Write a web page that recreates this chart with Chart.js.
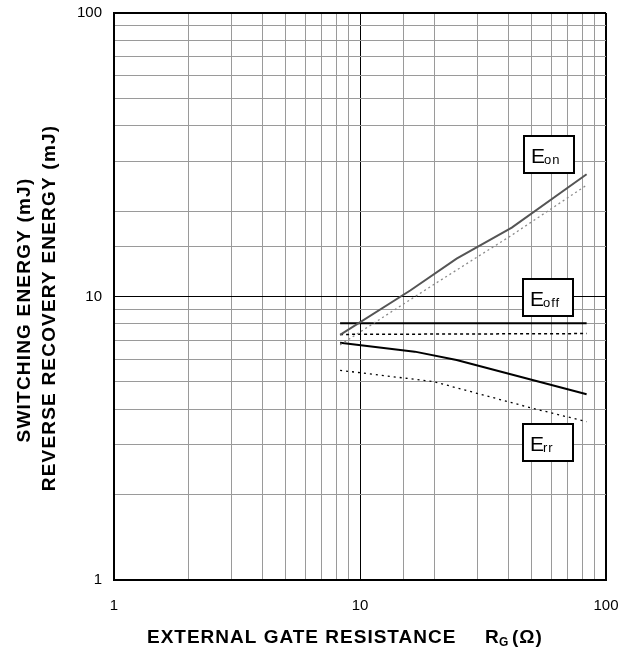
<!DOCTYPE html>
<html>
<head>
<meta charset="utf-8">
<script src="https://cdn.jsdelivr.net/npm/chart.js@4.4.1/dist/chart.umd.min.js"></script>
<style>
  html, body { margin: 0; padding: 0; background: #fff; }
  #grafica { display: block; }
</style>
</head>
<body>
<canvas id="grafica" width="621" height="652"></canvas>
<script>
// valores (Rg en ohm, energia en mJ)
const rgEon = [8.3, 16, 24.7, 41.4, 83.4];
const eonSolida = [7.32, 10.5, 13.6, 17.5, 27.0];
const rgEonPunteada = [8.3, 20.2, 40.7, 83.4];
const eonPunteada = [6.75, 11.1, 16.3, 24.7];
const rgEoff = [8.3, 83.4];
const eoffSolida = [8.05, 8.05];
const eoffPunteada = [7.35, 7.4];
const rgErr = [8.3, 16.7, 24.7, 83.4];
const errSolida = [6.87, 6.39, 5.97, 4.52];
const rgErrPunteada = [8.3, 19.9, 50.5, 83.4];
const errPunteada = [5.49, 5.01, 4.03, 3.62];
const ticksMarcados = [1, 10, 100];

const puntos = (xs, ys) => xs.map((x, i) => ({ x: x, y: ys[i] }));

const esMayor = v => ticksMarcados.includes(v);

// cajas de etiqueta y titulos de ejes
const etiquetas = {
  id: 'etiquetas',
  afterDraw(chart) {
    const ctx = chart.ctx;
    const cajas = [
      { sub: 'on', left: 524, top: 136 },
      { sub: 'off', left: 523, top: 279 },
      { sub: 'rr', left: 523, top: 424 }
    ];
    ctx.save();
    cajas.forEach(c => {
      ctx.fillStyle = '#fff';
      ctx.fillRect(c.left, c.top, 50, 37);
      ctx.strokeStyle = '#000';
      ctx.lineWidth = 2;
      ctx.strokeRect(c.left, c.top, 50, 37);
      ctx.fillStyle = '#000';
      ctx.textAlign = 'left';
      ctx.textBaseline = 'alphabetic';
      ctx.font = '21px "Liberation Sans"';
      ctx.letterSpacing = '0px';
      ctx.fillText('E', c.left + 7, c.top + 27);
      ctx.font = '13px "Liberation Sans"';
      ctx.letterSpacing = '1px';
      ctx.fillText(c.sub, c.left + 20, c.top + 28);
    });

    // titulo eje x
    ctx.fillStyle = '#000';
    ctx.textAlign = 'left';
    ctx.textBaseline = 'alphabetic';
    ctx.font = 'bold 19px "Liberation Sans"';
    ctx.letterSpacing = '1px';
    ctx.fillText('EXTERNAL GATE RESISTANCE', 147, 643);
    ctx.fillText('R', 485, 643);
    ctx.font = 'bold 12px "Liberation Sans"';
    ctx.letterSpacing = '0px';
    ctx.fillText('G', 499, 646);
    ctx.font = 'bold 19px "Liberation Sans"';
    ctx.letterSpacing = '1px';
    ctx.fillText('(Ω)', 512, 643);

    // titulo eje y (dos lineas)
    ctx.textAlign = 'center';
    ctx.textBaseline = 'middle';
    ctx.letterSpacing = '1.2px';
    ctx.translate(25, 310);
    ctx.rotate(-Math.PI / 2);
    ctx.fillText('SWITCHING ENERGY (mJ)', 0, 0);
    ctx.fillText('REVERSE RECOVERY ENERGY (mJ)', 2, 25);
    ctx.restore();
  }
};

new Chart(document.getElementById('grafica'), {
  type: 'scatter',
  data: {
    datasets: [
      { data: puntos(rgEon, eonSolida), borderColor: '#555555', borderWidth: 2 },
      { data: puntos(rgEonPunteada, eonPunteada), borderColor: '#8a8a8a', borderWidth: 1.3, borderDash: [2, 3] },
      { data: puntos(rgEoff, eoffSolida), borderColor: '#000000', borderWidth: 2 },
      { data: puntos(rgEoff, eoffPunteada), borderColor: '#000000', borderWidth: 1.5, borderDash: [3, 3] },
      { data: puntos(rgErr, errSolida), borderColor: '#000000', borderWidth: 2 },
      { data: puntos(rgErrPunteada, errPunteada), borderColor: '#000000', borderWidth: 1.3, borderDash: [2, 4] }
    ].map(d => Object.assign(d, { showLine: true, pointRadius: 0, fill: false, tension: 0 }))
  },
  options: {
    responsive: false,
    animation: false,
    layout: { padding: { top: 13, right: 15, left: 0, bottom: 0 } },
    plugins: {
      legend: { display: false },
      tooltip: { enabled: false }
    },
    scales: {
      x: {
        type: 'logarithmic',
        min: 1,
        max: 100,
        afterFit: s => { s.height = 72; s.paddingLeft = 0; s.paddingRight = 0; },
        border: { display: true, color: '#000', width: 2 },
        grid: {
          drawTicks: false,
          color: c => esMayor(c.tick.value) ? '#000' : '#9a9a9a',
          lineWidth: c => c.tick.value === 100 ? 2 : 1
        },
        ticks: {
          padding: 17,
          maxRotation: 0,
          autoSkip: false,
          color: '#000',
          font: { family: '"Liberation Sans"', size: 15 },
          callback: v => esMayor(v) ? String(v) : ''
        }
      },
      y: {
        type: 'logarithmic',
        min: 1,
        max: 100,
        afterFit: s => { s.width = 114; s.paddingTop = 0; s.paddingBottom = 0; },
        border: { display: true, color: '#000', width: 2 },
        grid: {
          drawTicks: false,
          color: c => esMayor(c.tick.value) ? '#000' : '#9a9a9a',
          lineWidth: c => c.tick.value === 100 ? 2 : 1
        },
        ticks: {
          padding: 12,
          autoSkip: false,
          color: '#000',
          font: { family: '"Liberation Sans"', size: 15 },
          callback: v => esMayor(v) ? String(v) : ''
        }
      }
    }
  },
  plugins: [etiquetas]
});
</script>
</body>
</html>
